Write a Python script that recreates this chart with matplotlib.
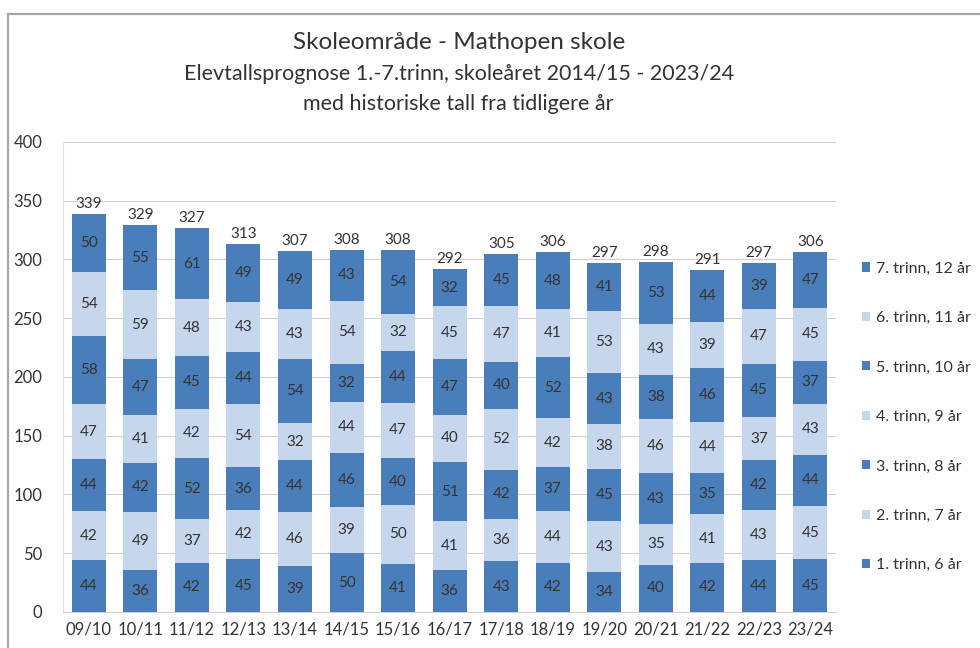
import matplotlib
matplotlib.use("Agg")
import matplotlib.pyplot as plt
import matplotlib.patches as mpatches
import numpy as np

plt.rcParams['font.family'] = ['Lato', 'DejaVu Sans']

years = ['09/10', '10/11', '11/12', '12/13', '13/14', '14/15', '15/16', '16/17',
         '17/18', '18/19', '19/20', '20/21', '21/22', '22/23', '23/24']

trinn1 = [44, 36, 42, 45, 39, 50, 41, 36, 43, 42, 34, 40, 42, 44, 45]
trinn2 = [42, 49, 37, 42, 46, 39, 50, 41, 36, 44, 43, 35, 41, 43, 45]
trinn3 = [44, 42, 52, 36, 44, 46, 40, 51, 42, 37, 45, 43, 35, 42, 44]
trinn4 = [47, 41, 42, 54, 32, 44, 47, 40, 52, 42, 38, 46, 44, 37, 43]
trinn5 = [58, 47, 45, 44, 54, 32, 44, 47, 40, 52, 43, 38, 46, 45, 37]
trinn6 = [54, 59, 48, 43, 43, 54, 32, 45, 47, 41, 53, 43, 39, 47, 45]
trinn7 = [50, 55, 61, 49, 49, 43, 54, 32, 45, 48, 41, 53, 44, 39, 47]

series_names = ['1. trinn, 6 år', '2. trinn, 7 år', '3. trinn, 8 år', '4. trinn, 9 år',
                '5. trinn, 10 år', '6. trinn, 11 år', '7. trinn, 12 år']
series = [trinn1, trinn2, trinn3, trinn4, trinn5, trinn6, trinn7]

dark = '#4a7ebb'
light = '#c6d6ec'
colors = [dark, light, dark, light, dark, light, dark]
txt = '#333333'

fig = plt.figure(figsize=(9.8, 6.48), dpi=100)
ax = fig.add_axes([0.0643, 0.0556, 0.789, 0.7253])

x = np.arange(len(years))
bottom = np.zeros(len(years))
handles = []
for vals, name, col in zip(series, series_names, colors):
    vals = np.array(vals)
    bars = ax.bar(x, vals, 0.66, bottom=bottom, color=col, label=name, zorder=3)
    for xi, b, v in zip(x, bottom, vals):
        ax.text(xi, b + v / 2, str(v), ha='center', va='center',
                fontsize=11, color=txt, zorder=4)
    handles.append(bars)
    bottom += vals

# totals above each column
for xi, tot in zip(x, bottom):
    ax.text(xi, tot + 2.5, str(int(tot)), ha='center', va='bottom',
            fontsize=11, color=txt)

ax.set_xlim(-0.5, len(years) - 0.5)
ax.set_ylim(0, 400)
ax.set_yticks(range(0, 401, 50))
ax.set_xticks(x)
ax.set_xticklabels(years)
ax.tick_params(axis='x', labelsize=12, colors=txt, length=0, pad=7)
ax.tick_params(axis='y', labelsize=12, colors=txt, length=0, pad=15)
ax.yaxis.grid(True, color='#d0d0d0', linewidth=0.8, zorder=0)
for s in ['top', 'right']:
    ax.spines[s].set_visible(False)
ax.spines['left'].set_color('#e0e0e0')
ax.spines['bottom'].set_color('#d0d0d0')

leg = ax.legend(handles[::-1], series_names[::-1], loc='upper left',
                bbox_to_anchor=(1.015, 0.776), frameon=False, fontsize=11.5,
                handlelength=0.5, handleheight=0.5, handletextpad=0.35,
                labelspacing=2.22, labelcolor=txt)

fig.text(0.468, 0.935, 'Skoleområde - Mathopen skole', ha='center', va='center',
         fontsize=17.5, color=txt)
fig.text(0.468, 0.886, 'Elevtallsprognose 1.-7.trinn, skoleåret 2014/15 - 2023/24',
         ha='center', va='center', fontsize=15.5, color=txt)
fig.text(0.468, 0.840, 'med historiske tall fra tidligere år', ha='center',
         va='center', fontsize=15.5, color=txt)

frame = mpatches.Rectangle((8 / 980, -0.05), 1.1, 1 - 14 / 648 + 0.05,
                           transform=fig.transFigure, fill=False,
                           edgecolor='#a6a6a6', linewidth=1.6)
fig.patches.append(frame)

fig.savefig('out.png', dpi=100)
